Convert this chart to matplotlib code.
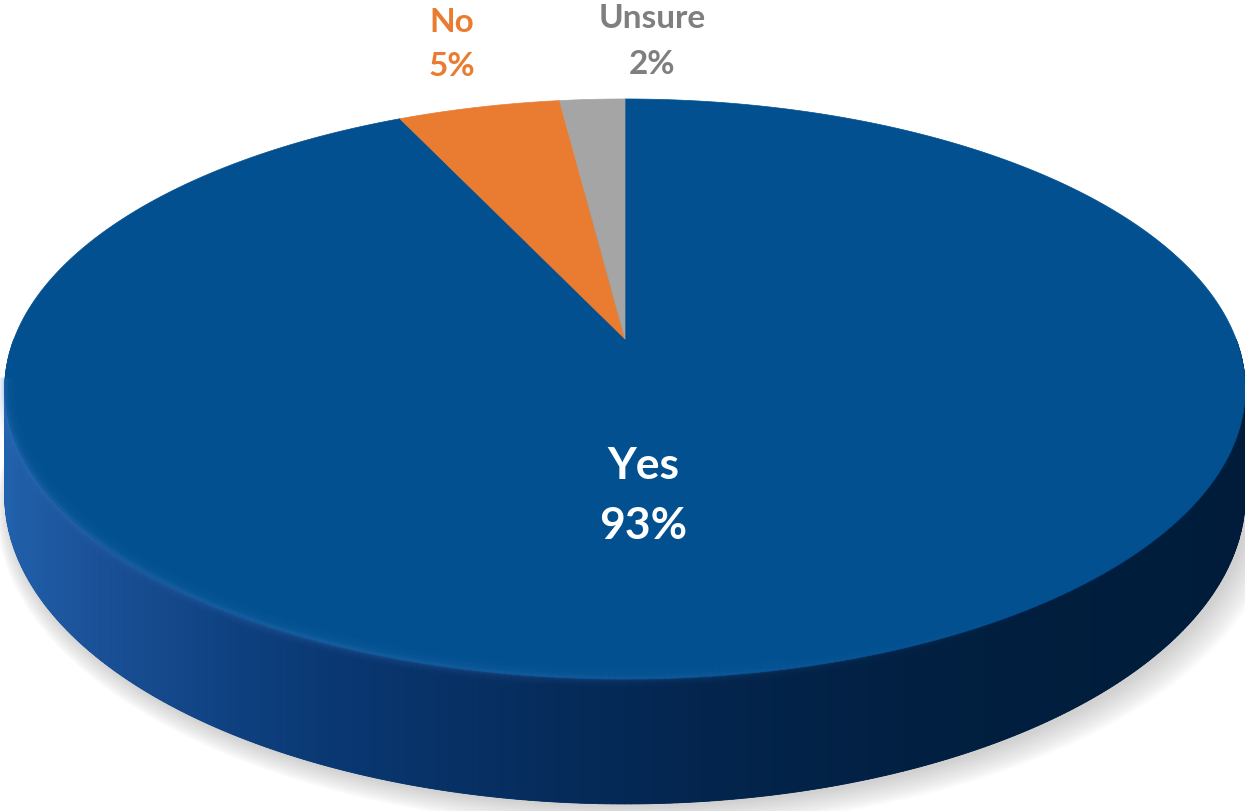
import numpy as np
import matplotlib
matplotlib.use("Agg")
import matplotlib.pyplot as plt
from matplotlib.patches import Polygon
from matplotlib.colors import LinearSegmentedColormap

labels = ["Yes", "No", "Unsure"]
values = [93, 5, 2]
top_colors = ["#02508F", "#E97C30", "#A5A5A5"]
label_colors = ["white", "#E97C30", "#7F7F7F"]

# pixel geometry of the tilted disc
cx, cy = 625, 340
A, B, k, T = 611, 281.4, 0.1724, 103.4

W, H = 1245, 812
fig = plt.figure(figsize=(W / 100, H / 100), dpi=100)
ax = fig.add_axes([0, 0, 1, 1])
ax.set_xlim(0, W)
ax.set_ylim(H, 0)
ax.axis("off")


def proj(theta, h=0.0):
    # theta in degrees, 0 = far side (12 o'clock), clockwise
    t = np.radians(theta)
    x = np.sin(t)
    d = np.cos(t)
    w = 1 + k * d
    return cx + A * x / w, cy - B * d / w + T * h / w


# soft shadow under the disc
ang = np.linspace(0, 360, 721)
for i in range(14):
    s = 1 + 0.0025 * i
    bx, by = proj(ang, 1.0)
    bx = cx + (bx - cx) * s + 4 + i * 0.6
    by = cy + (by - cy) * s + 3 + i * 0.5
    ax.add_patch(Polygon(np.c_[bx, by], closed=True, facecolor="#9a9a9a",
                         edgecolor="none", alpha=0.035, zorder=1))

# side wall, lighter on the left, dark navy on the right
side_cmap = LinearSegmentedColormap.from_list(
    "side", [(0.0, "#2262AC"), (0.08, "#1A5096"), (0.18, "#0F4282"),
             (0.26, "#0A3873"), (0.42, "#062D5E"), (0.58, "#03244C"),
             (0.75, "#011F40"), (1.0, "#001C3A")])
bx, by = proj(ang, 1.0)
ax.add_patch(Polygon(np.c_[bx, by], closed=True, facecolor="#062D5E",
                     edgecolor="none", zorder=2))
seg = np.linspace(90, 270, 361)
for a0, a1 in zip(seg[:-1], seg[1:]):
    x0, y0 = proj(a0)
    x1, y1 = proj(a1)
    x2, y2 = proj(a1, 1.0)
    x3, y3 = proj(a0, 1.0)
    c = side_cmap((x0 + x1) / 2 / W)
    ax.add_patch(Polygon([[x0, y0], [x1, y1], [x2, y2], [x3, y3]], closed=True,
                         facecolor=c, edgecolor=c, linewidth=0.6, zorder=3))

# top face wedges
start = 0.0
total = sum(values)
for v, col in zip(values, top_colors):
    end = start + 360.0 * v / total
    arc = np.linspace(start, end, max(int(end - start) * 2, 8))
    px, py = proj(arc)
    pts = np.vstack([[cx, cy], np.c_[px, py]])
    ax.add_patch(Polygon(pts, closed=True, facecolor=col, edgecolor=col,
                         linewidth=0.5, zorder=4))
    start = end

# light bevel along the front rim
rim = np.linspace(100, 262, 300)
rx, ry = proj(rim)
for lw, al in [(14, 0.05), (9, 0.07), (5, 0.1), (2.5, 0.14)]:
    for j in range(len(rim) - 1):
        fade = np.clip((rx[j] - 350) / 700, 0, 1)
        a = al * (1 - 0.9 * fade)
        ax.plot(rx[j:j + 2], ry[j:j + 2] - lw * 0.15, color="#3C7CC4",
                lw=lw, alpha=a, solid_capstyle="butt", zorder=5)

fam = ["Lato", "DejaVu Sans"]
ax.text(643, 466, labels[0], color=label_colors[0], fontsize=32, fontweight="bold",
        ha="center", va="center", family=fam, zorder=6)
ax.text(643, 526, "{}%".format(values[0]), color=label_colors[0], fontsize=32,
        fontweight="bold", ha="center", va="center", family=fam, zorder=6)
ax.text(452, 22, labels[1], color=label_colors[1], fontsize=24, fontweight="bold",
        ha="center", va="center", family=fam, zorder=6)
ax.text(452, 67, "{}%".format(values[1]), color=label_colors[1], fontsize=24,
        fontweight="bold", ha="center", va="center", family=fam, zorder=6)
ax.text(652, 19, labels[2], color=label_colors[2], fontsize=24, fontweight="bold",
        ha="center", va="center", family=fam, zorder=6)
ax.text(652, 64, "{}%".format(values[2]), color=label_colors[2], fontsize=24,
        fontweight="bold", ha="center", va="center", family=fam, zorder=6)

fig.savefig("out.png", dpi=100)
